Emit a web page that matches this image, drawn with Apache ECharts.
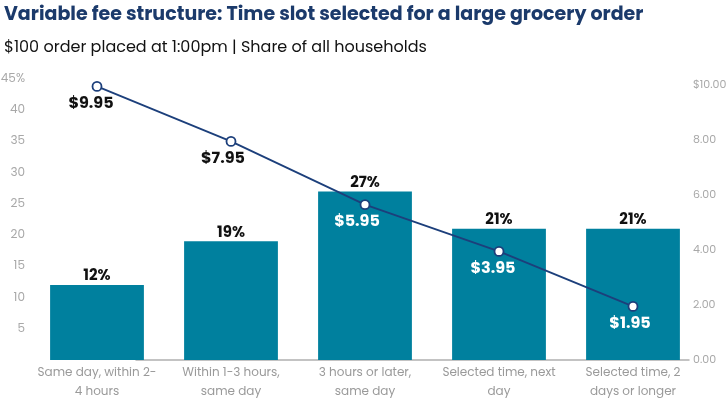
<!DOCTYPE html>
<html>
<head>
<meta charset="utf-8">
<script src="https://cdn.jsdelivr.net/npm/echarts@6/dist/echarts.min.js"></script>
<style>
html,body{margin:0;padding:0;background:#fff;}
#c{width:728px;height:400px;}
</style>
</head>
<body>
<div id="c"></div>
<script>
var categories = [
  'Same day, within 2-\n4 hours',
  'Within 1-3 hours,\nsame day',
  '3 hours or later,\nsame day',
  'Selected time, next\nday',
  'Selected time, 2\ndays or longer'
];
var shareValues = [12, 19, 27, 21, 21];
var feeValues = [9.95, 7.95, 5.65, 3.95, 1.95];
var feeLabels = ['$9.95', '$7.95', '$5.95', '$3.95', '$1.95'];
var leftTicks = [5, 10, 15, 20, 25, 30, 35, 40, 45];
var rightTicks = [0, 2, 4, 6, 8, 10];

var FONT = 'Poppins, "Noto Sans", sans-serif';
var chart = echarts.init(document.getElementById('c'), null, {renderer: 'canvas'});
var labelColors = ['#111', '#111', '#fff', '#fff', '#fff'];
var labelOffsets = [[-6, 0], [-8, 0], [-8, 0], [-6, 0], [-3, 0]];

chart.setOption({
  animation: false,
  backgroundColor: '#fff',
  title: [{
    text: 'Variable fee structure: Time slot selected for a large grocery order',
    left: -1, top: 1,
    textStyle: {fontFamily: FONT, fontSize: 19, fontWeight: 'bold', color: '#1b3a6b'}
  }, {
    text: '$100 order placed at 1:00pm | Share of all households',
    left: -1, top: 35,
    textStyle: {fontFamily: FONT, fontSize: 16, fontWeight: 'normal', color: '#111'}
  }],
  grid: [
    {left: 30, right: 28, top: 79, bottom: 40, outerBoundsMode: 'none', containLabel: false},
    {left: 136, right: 39, top: 79, bottom: 40, outerBoundsMode: 'none', containLabel: false}
  ],
  xAxis: [{
    type: 'category', gridIndex: 0, data: categories,
    axisLine: {show: false}, axisTick: {show: false},
    axisLabel: {color: '#9a9a9a', fontFamily: FONT, fontSize: 12, lineHeight: 19, margin: 3, interval: 0}
  }, {
    type: 'value', gridIndex: 1, min: 0, max: 1,
    axisLine: {show: true, lineStyle: {color: '#b0b0b0', width: 1.5}},
    axisTick: {show: false}, axisLabel: {show: false}, splitLine: {show: false}
  }],
  yAxis: [{
    type: 'value', gridIndex: 0, min: 0, max: 45, interval: 5,
    axisLine: {show: false}, axisTick: {show: false}, splitLine: {show: false},
    axisLabel: {
      color: '#a8a8a8', fontFamily: FONT, fontSize: 12, margin: 5,
      formatter: function (v) {
        if (leftTicks.indexOf(v) < 0) return '';
        return v === 45 ? v + '%' : String(v);
      }
    }
  }, {
    type: 'value', gridIndex: 0, position: 'right', min: 0, max: 10.22, interval: 2,
    axisLine: {show: false}, axisTick: {show: false}, splitLine: {show: false},
    axisLabel: {
      color: '#a8a8a8', fontFamily: FONT, fontSize: 11, margin: -7,
      formatter: function (v) {
        if (rightTicks.indexOf(v) < 0) return '';
        return (v === 10 ? '$' : '') + v.toFixed(2);
      }
    }
  }, {
    type: 'value', gridIndex: 1, show: false, min: 0, max: 1
  }],
  series: [{
    type: 'bar', xAxisIndex: 0, yAxisIndex: 0,
    data: shareValues, barWidth: '70%',
    itemStyle: {color: '#00809e'},
    label: {
      show: true, position: 'top', distance: 1,
      formatter: '{c}%',
      color: '#111', fontFamily: FONT, fontSize: 15, fontWeight: 'bold'
    }
  }, {
    type: 'line', xAxisIndex: 0, yAxisIndex: 1,
    data: feeValues.map(function (v, i) {
      return {
        value: v,
        label: {color: labelColors[i], offset: labelOffsets[i]}
      };
    }),
    symbol: 'circle', symbolSize: 9,
    lineStyle: {color: '#1c3f7b', width: 1.8},
    itemStyle: {color: '#fff', borderColor: '#1c3f7b', borderWidth: 1.8},
    label: {
      show: true, position: 'bottom', distance: 4,
      formatter: function (p) { return feeLabels[p.dataIndex]; },
      fontFamily: FONT, fontSize: 16, fontWeight: 'bold'
    },
    z: 5
  }]
});
</script>
</body>
</html>
